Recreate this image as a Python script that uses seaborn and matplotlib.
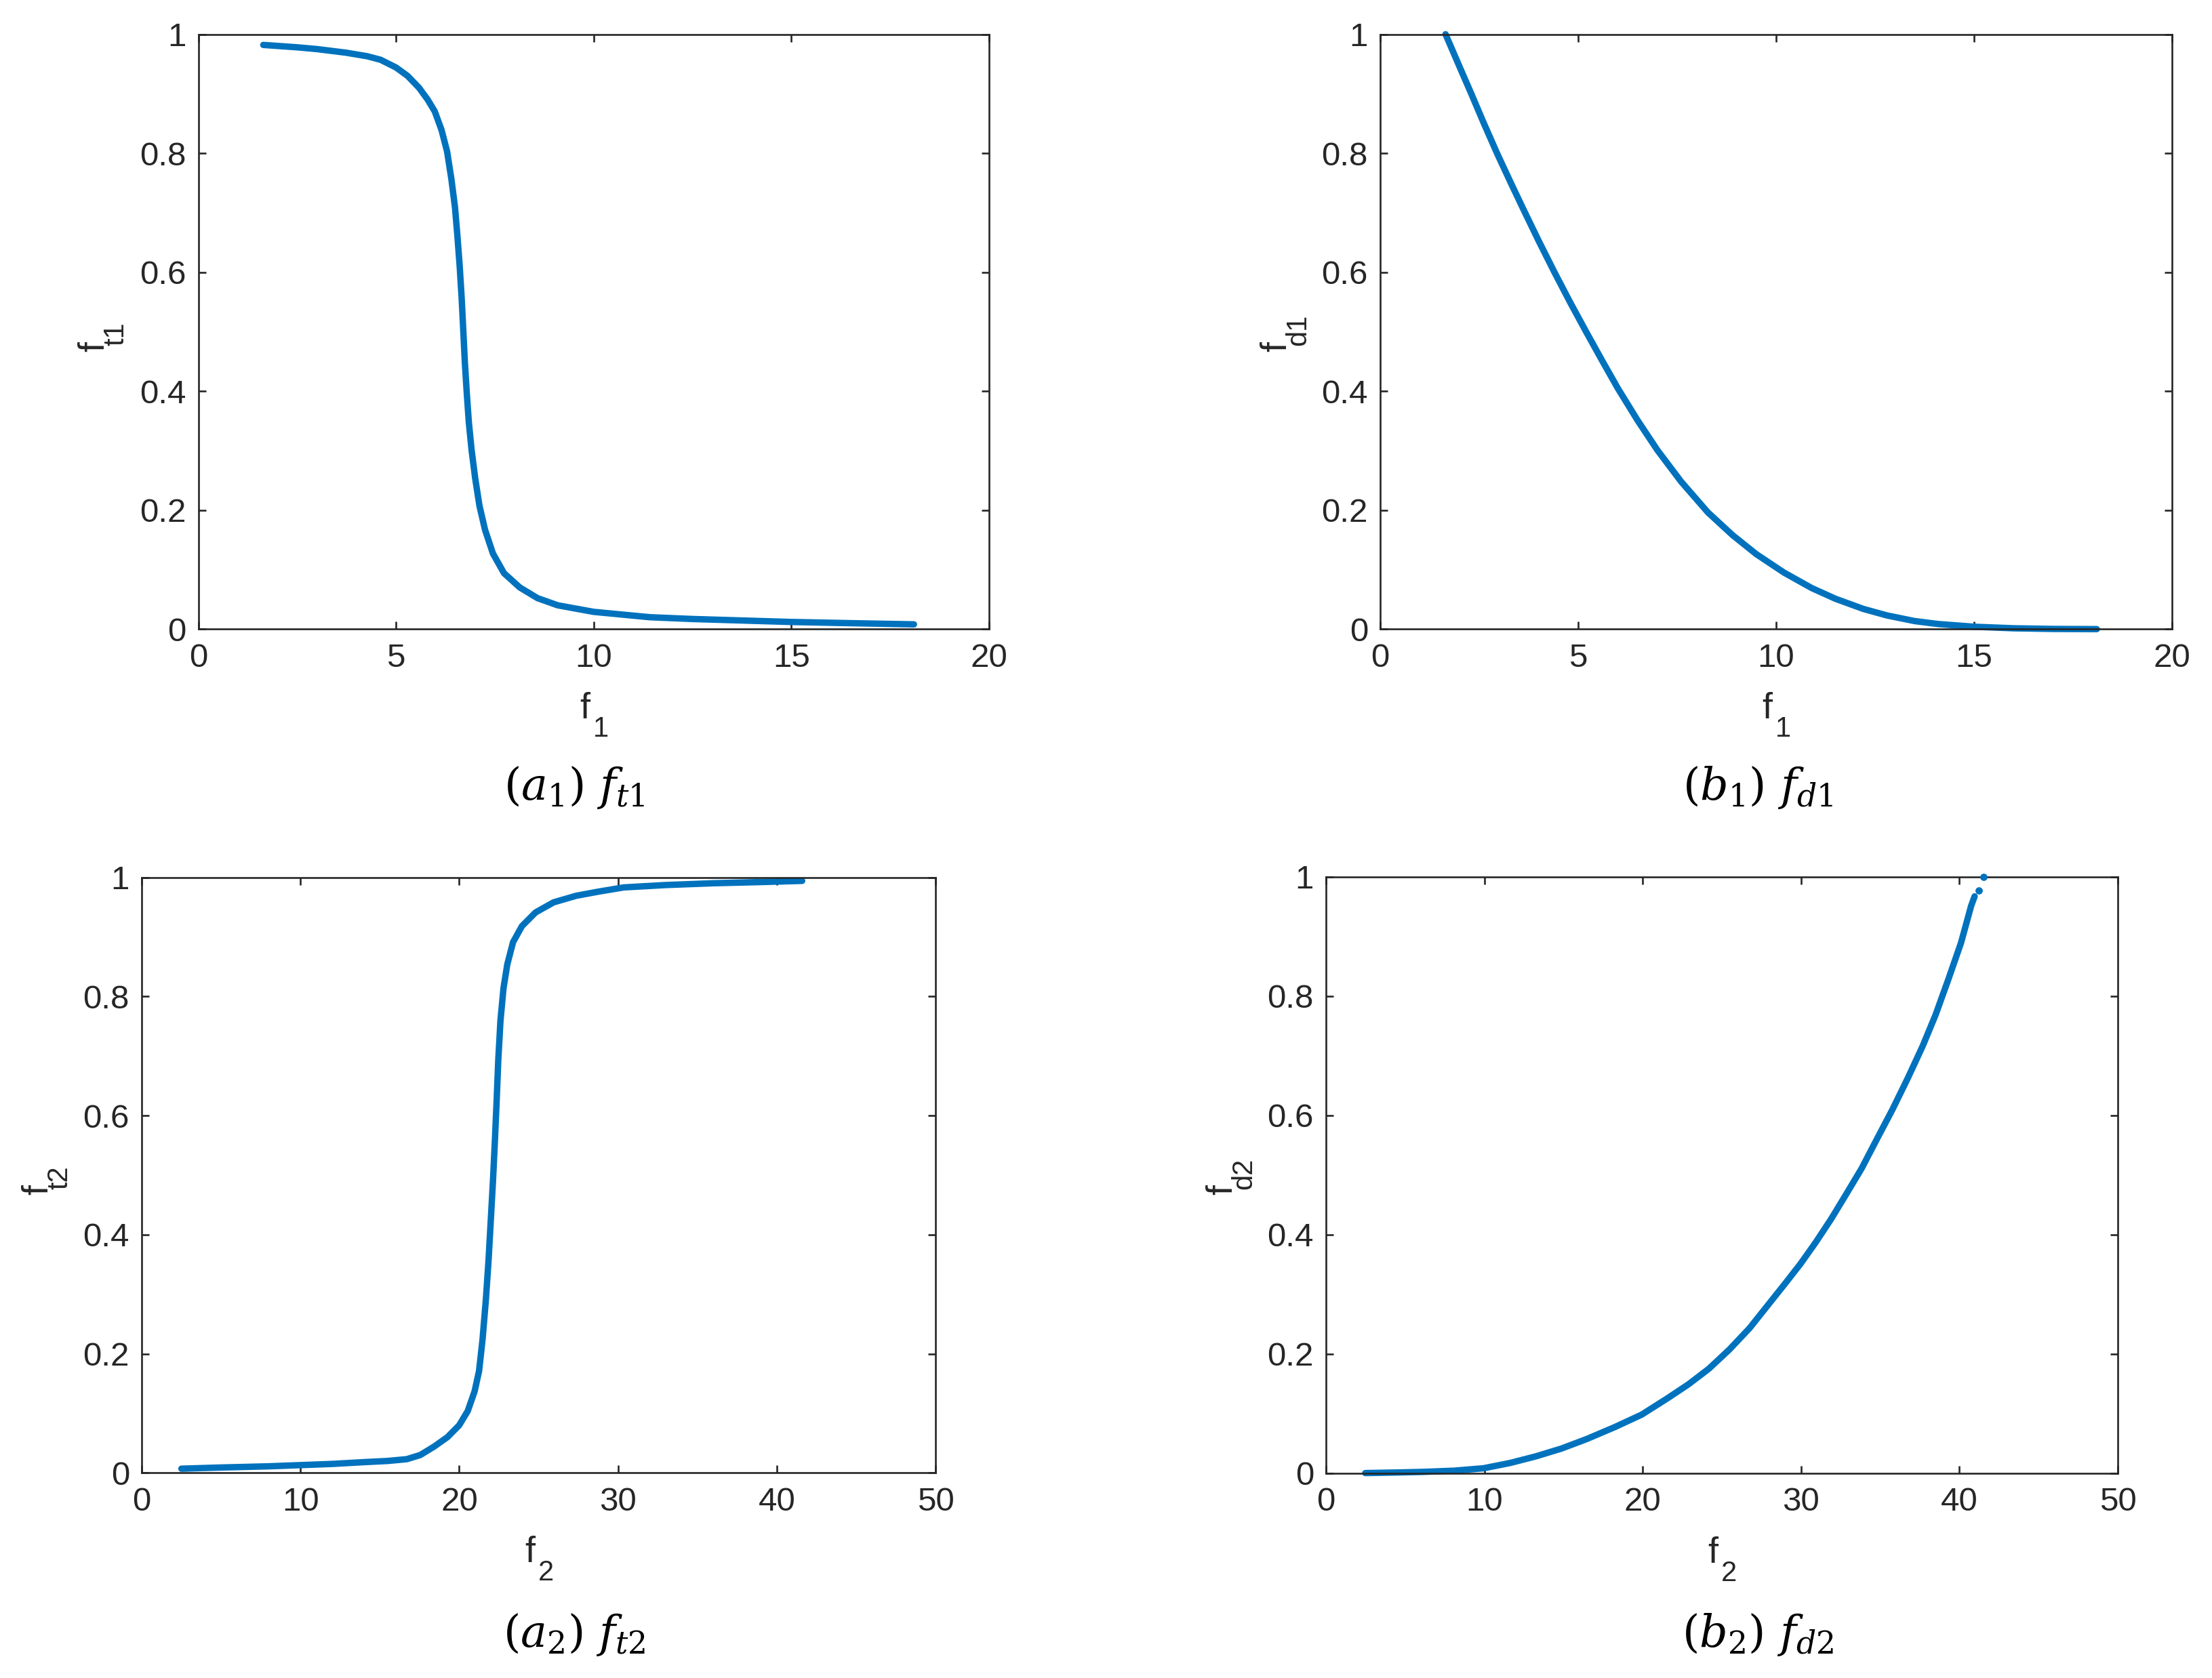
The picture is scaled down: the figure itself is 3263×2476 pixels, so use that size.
import numpy as np
import pandas as pd
import matplotlib
matplotlib.use("Agg")
import matplotlib.pyplot as plt
import matplotlib.transforms as mtransforms
import seaborn as sns

# ---------------- data ----------------
a1_x = [1.64, 2.5, 3.0, 3.73, 4.27, 4.61, 5.0, 5.29, 5.58, 5.80, 5.98, 6.15, 6.29, 6.40,
        6.49, 6.55, 6.61, 6.66, 6.70, 6.74, 6.79, 6.84, 6.91, 7.0, 7.11, 7.25, 7.45,
        7.73, 8.13, 8.58, 9.09, 10.0, 11.42, 12.5, 14.0, 15.0, 16.5, 18.1]
a1_y = [0.982, 0.978, 0.975, 0.969, 0.963, 0.957, 0.944, 0.930, 0.910, 0.890, 0.870,
        0.839, 0.803, 0.756, 0.709, 0.662, 0.609, 0.555, 0.502, 0.448, 0.395, 0.348,
        0.301, 0.254, 0.207, 0.167, 0.127, 0.094, 0.070, 0.052, 0.040, 0.029, 0.020,
        0.017, 0.014, 0.012, 0.010, 0.008]

b1_x = [1.65, 2.0, 2.3, 2.6, 2.95, 3.3, 3.6, 4.0, 4.4, 4.8, 5.2, 5.6, 6.0, 6.5, 7.0,
        7.6, 8.28, 8.9, 9.5, 10.2, 10.9, 11.5, 12.2, 12.8, 13.5, 14.1, 15.0, 16.0,
        17.0, 18.1]
b1_y = [1.0, 0.946, 0.900, 0.853, 0.800, 0.750, 0.708, 0.653, 0.600, 0.549, 0.500,
        0.452, 0.405, 0.351, 0.301, 0.248, 0.196, 0.158, 0.126, 0.095, 0.069, 0.051,
        0.034, 0.023, 0.0135, 0.0085, 0.0040, 0.0014, 0.0003, 0.0]

a2_x = [2.5, 5.0, 8.0, 10.0, 12.0, 14.0, 15.5, 16.7, 17.55, 18.41, 19.26, 20.0, 20.54,
        20.97, 21.25, 21.47, 21.68, 21.85, 21.99, 22.13, 22.25, 22.36, 22.46, 22.60,
        22.79, 23.03, 23.39, 23.95, 24.81, 25.95, 27.37, 28.79, 30.36, 33.0, 36.0,
        39.0, 41.6]
a2_y = [0.007, 0.009, 0.011, 0.013, 0.015, 0.018, 0.020, 0.023, 0.030, 0.044, 0.060,
        0.080, 0.104, 0.137, 0.171, 0.224, 0.291, 0.358, 0.425, 0.492, 0.559, 0.626,
        0.693, 0.760, 0.814, 0.854, 0.891, 0.918, 0.941, 0.958, 0.969, 0.976, 0.983,
        0.987, 0.990, 0.992, 0.994]

b2_x = [2.48, 4.57, 6.17, 8.1, 9.94, 11.64, 13.25, 14.86, 16.46, 18.23, 19.94, 21.6,
        22.9, 24.18, 25.47, 26.75, 28.04, 29.0, 29.97, 30.93, 31.9, 32.86, 33.83,
        34.79, 35.76, 36.72, 37.68, 38.49, 39.29, 40.1, 40.74, 40.96]
b2_y = [0.0, 0.001, 0.002, 0.004, 0.008, 0.017, 0.028, 0.041, 0.057, 0.077, 0.098,
        0.126, 0.149, 0.175, 0.207, 0.243, 0.286, 0.318, 0.351, 0.387, 0.426, 0.468,
        0.511, 0.560, 0.609, 0.661, 0.716, 0.768, 0.827, 0.889, 0.951, 0.967]
b2_dots_x = [41.22, 41.54]
b2_dots_y = [0.977, 1.0]

x1_ticks = [0, 5, 10, 15, 20]
x2_ticks = [0, 10, 20, 30, 40, 50]
y_ticks = [0, 0.2, 0.4, 0.6, 0.8, 1.0]
y_tick_labels = ["0", "0.2", "0.4", "0.6", "0.8", "1"]

xlabel_subs = ["1", "1", "2", "2"]
ylabel_subs = ["t1", "d1", "t2", "d2"]
captions = [r"$(a_1)\ f_{t1}$", r"$(b_1)\ f_{d1}$", r"$(a_2)\ f_{t2}$", r"$(b_2)\ f_{d2}$"]

# ---------------- style ----------------
sns.set_style("ticks")
plt.rcParams['font.family'] = ['Liberation Sans', 'DejaVu Sans']
plt.rcParams['mathtext.fontset'] = 'custom'
plt.rcParams['mathtext.rm'] = 'DejaVu Serif'
plt.rcParams['mathtext.it'] = 'DejaVu Serif:italic'
plt.rcParams['mathtext.bf'] = 'DejaVu Serif:bold'

W, H = 3263, 2476
DPI = 100
fig = plt.figure(figsize=(W / DPI, H / DPI), dpi=DPI)

AX_COLOR = '#262626'
LINE_COLOR = '#0072BD'

def px_rect(l, t, r, b):
    return [l / W, 1 - b / H, (r - l) / W, (b - t) / H]

rects = [px_rect(292.7, 50.5, 1459, 928.3),
         px_rect(2036, 50.5, 3204, 928.3),
         px_rect(209, 1294.5, 1380, 2173.3),
         px_rect(1956, 1293.6, 3124, 2173.6)]
cap_pos = [(847, 1162), (2593, 1162), (847, 2412), (2593, 2412)]

series = [(a1_x, a1_y, x1_ticks, (0, 20)),
          (b1_x, b1_y, x1_ticks, (0, 20)),
          (a2_x, a2_y, x2_ticks, (0, 50)),
          (b2_x, b2_y, x2_ticks, (0, 50))]


def off(ax, dx, dy):
    return ax.transAxes + mtransforms.ScaledTranslation(dx / DPI, dy / DPI,
                                                         fig.dpi_scale_trans)


LBL = 39
SUB = 30

for i, (xs, ys, xt, xl) in enumerate(series):
    ax = fig.add_axes(rects[i])
    df = pd.DataFrame({"x": xs, "y": ys})
    sns.lineplot(data=df, x="x", y="y", ax=ax, color=LINE_COLOR, linewidth=6.8,
                 sort=False, estimator=None, solid_capstyle='round',
                 solid_joinstyle='round', clip_on=False)
    if i == 3:
        ax.scatter(b2_dots_x, b2_dots_y, s=60, color=LINE_COLOR, clip_on=False,
                   linewidths=0, zorder=3)
    ax.set_xlim(*xl)
    ax.set_ylim(0, 1)
    ax.set_xticks(xt)
    ax.set_xticklabels([str(v) for v in xt])
    ax.set_yticks(y_ticks)
    ax.set_yticklabels(y_tick_labels)
    ax.tick_params(direction='in', top=True, right=True, length=8, width=1.9,
                   color=AX_COLOR, labelcolor=AX_COLOR, labelsize=35.5)
    ax.tick_params(axis='x', pad=15)
    ax.tick_params(axis='y', pad=13)
    for sp in ax.spines.values():
        sp.set_visible(True)
        sp.set_color(AX_COLOR)
        sp.set_linewidth(1.9)
    ax.set_xlabel("")
    ax.set_ylabel("")

    # x label: f with a low subscript (MATLAB tex style)
    ax.text(0.5, 0, "f", transform=off(ax, -13, -132), ha='center', va='baseline',
            fontsize=LBL, color=AX_COLOR)
    ax.text(0.5, 0, xlabel_subs[i], transform=off(ax, -1, -159), ha='left',
            va='baseline', fontsize=SUB, color=AX_COLOR)
    # y label, rotated
    ax.text(0, 0.5, "f", transform=off(ax, -139, -22), ha='center', va='baseline',
            rotation=90, rotation_mode='anchor', fontsize=LBL, color=AX_COLOR)
    ax.text(0, 0.5, ylabel_subs[i], transform=off(ax, -110, -21), ha='left',
            va='baseline', rotation=90, rotation_mode='anchor', fontsize=SUB,
            color=AX_COLOR)

    cx, cy = cap_pos[i]
    fig.text(cx / W, 1 - cy / H, captions[i], ha='center', va='center',
             fontsize=47, color='black')

fig.savefig("out.png", dpi=DPI, facecolor='white')
